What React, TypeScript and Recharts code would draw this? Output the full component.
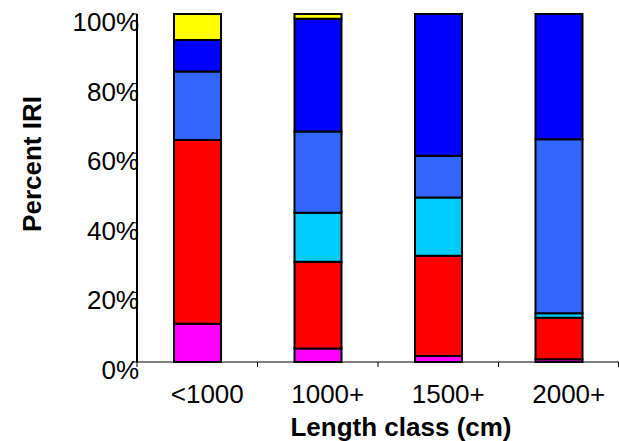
import React from 'react'
import { BarChart, Bar, XAxis, YAxis, Label } from 'recharts'

// percent of IRI per length class, stacked bottom to top
const categories = ['<1000', '1000+', '1500+', '2000+']
const magentaShare = [11.0, 3.9, 1.7, 0.8]
const redShare = [52.8, 24.9, 28.8, 11.9]
const cyanShare = [0, 14.1, 16.8, 1.3]
const lightBlueShare = [19.7, 23.3, 12.0, 50.0]
const blueShare = [9.0, 32.4, 40.7, 36.0]
const yellowShare = [7.5, 1.4, 0, 0]
const yTicks = [0, 20, 40, 60, 80, 100]

const series = [
  { key: 'magenta', values: magentaShare, color: '#FF00FF' },
  { key: 'red', values: redShare, color: '#FF0000' },
  { key: 'cyan', values: cyanShare, color: '#00CCFF' },
  { key: 'lightBlue', values: lightBlueShare, color: '#3366FF' },
  { key: 'blue', values: blueShare, color: '#0000FF' },
  { key: 'yellow', values: yellowShare, color: '#FFFF00' },
]

const data = categories.map((name, i) => {
  const row: Record<string, string | number> = { name }
  series.forEach((s) => {
    row[s.key] = s.values[i]
  })
  return row
})

const WIDTH = 619
const HEIGHT = 441
const PLOT_LEFT = 137
const PLOT_TOP = 14
const PLOT_BOTTOM = 362
const BAND = (WIDTH - PLOT_LEFT) / categories.length
const FONT = '"Liberation Sans", Arial, sans-serif'
const FONT_SIZE = 26

function XTick(props: any) {
  const { x, payload, index } = props
  return (
    <g>
      <line x1={x - BAND / 2} x2={x - BAND / 2} y1={PLOT_BOTTOM} y2={PLOT_BOTTOM + 5} stroke="#000" />
      {index === categories.length - 1 && (
        <line x1={x + BAND / 2 - 0.5} x2={x + BAND / 2 - 0.5} y1={PLOT_BOTTOM} y2={PLOT_BOTTOM + 5} stroke="#000" />
      )}
      <text x={x + 10} y={403} textAnchor="middle" fontSize={FONT_SIZE} fontFamily={FONT} fill="#000">
        {payload.value}
      </text>
    </g>
  )
}

function YTick(props: any) {
  const { y, payload } = props
  return (
    <text x={139} y={y + 17} textAnchor="end" fontSize={FONT_SIZE} fontFamily={FONT} fill="#000">
      {`${payload.value}%`}
    </text>
  )
}

export default function App() {
  return (
    <div style={{ position: 'absolute', left: 0, top: 0, background: '#fff' }}>
      <BarChart
        width={WIDTH}
        height={HEIGHT}
        data={data}
        margin={{ top: PLOT_TOP, right: 0, left: 0, bottom: 0 }}
      >
        <XAxis
          dataKey="name"
          height={HEIGHT - PLOT_BOTTOM}
          axisLine={{ stroke: '#000', strokeWidth: 1 }}
          tickLine={false}
          tick={<XTick />}
          interval={0}
        >
          <Label
            content={() => (
              <text x={401} y={436} textAnchor="middle" fontSize={FONT_SIZE} fontWeight="bold" fontFamily={FONT} fill="#000">
                Length class (cm)
              </text>
            )}
          />
        </XAxis>
        <YAxis
          width={PLOT_LEFT}
          domain={[0, 100]}
          ticks={yTicks}
          axisLine={{ stroke: '#000', strokeWidth: 2 }}
          tickLine={{ stroke: '#000' }}
          tickSize={5}
          tick={<YTick />}
          interval={0}
        >
          <Label
            content={() => (
              <text
                x={41}
                y={164}
                transform="rotate(-90 41 164)"
                textAnchor="middle"
                fontSize={FONT_SIZE}
                fontWeight="bold"
                fontFamily={FONT}
                fill="#000"
              >
                Percent IRI
              </text>
            )}
          />
        </YAxis>
        {series.map((s) => (
          <Bar
            key={s.key}
            dataKey={s.key}
            stackId="iri"
            fill={s.color}
            stroke="#000"
            strokeWidth={2}
            barSize={47}
            isAnimationActive={false}
          />
        ))}
      </BarChart>
    </div>
  )
}
